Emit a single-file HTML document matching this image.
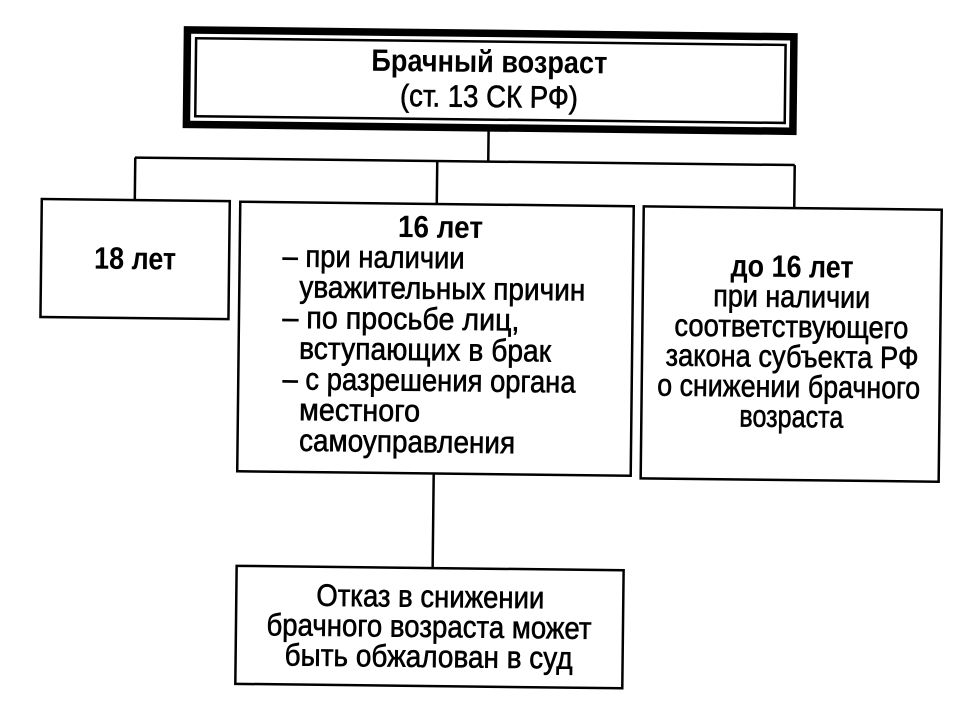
<!DOCTYPE html>
<html>
<head>
<meta charset="utf-8">
<style>
  html, body { margin: 0; padding: 0; background: #fff; }
  svg { display: block; }
  text { font-family: "Liberation Sans", Arial, sans-serif; fill: #000; }
  .b { font-weight: bold; }
  .r { stroke: #000; stroke-width: 0.6; }
</style>
</head>
<body>
<svg width="960" height="720" viewBox="0 0 960 720" xmlns="http://www.w3.org/2000/svg">
  <rect x="0" y="0" width="960" height="720" fill="#fff"/>
  <g transform="rotate(0.65 480 360)" fill="none" stroke="#000">
    <!-- Top box: thick outer + thin inner -->
    <rect x="183.75" y="33.25" width="606.5" height="94.5" stroke-width="7.5"/>
    <rect x="192.5" y="41.5" width="589.5" height="78" stroke-width="2.5"/>

    <!-- Connectors -->
    <line x1="486" y1="131" x2="486" y2="161.5" stroke-width="2.5"/>
    <line x1="132.7" y1="161.5" x2="792.5" y2="161.5" stroke-width="2.5"/>
    <line x1="133" y1="161.5" x2="133" y2="204" stroke-width="2.5"/>
    <line x1="435" y1="161.5" x2="435" y2="204.5" stroke-width="2.5"/>
    <line x1="792.5" y1="161.5" x2="792.5" y2="204.5" stroke-width="2.5"/>
    <line x1="435" y1="474" x2="435" y2="568.6" stroke-width="2.5"/>

    <!-- Boxes -->
    <rect x="40" y="204" width="188" height="118" stroke-width="2.5"/>
    <rect x="238.5" y="204.5" width="393.5" height="269.5" stroke-width="2.5"/>
    <rect x="642" y="204.5" width="298" height="272" stroke-width="2.5"/>
    <rect x="239" y="568.6" width="387" height="118" stroke-width="2.5"/>
  </g>

  <g transform="rotate(0.65 480 360)">
    <!-- Top box text -->
    <text class="b" x="486" y="72" font-size="31" text-anchor="middle" textLength="236" lengthAdjust="spacingAndGlyphs">Брачный возраст</text>
    <text class="r" x="486" y="107" font-size="31" text-anchor="middle" textLength="178" lengthAdjust="spacingAndGlyphs">(ст. 13 СК РФ)</text>

    <!-- Left box -->
    <text class="b" x="134" y="273" font-size="31" text-anchor="middle" textLength="82" lengthAdjust="spacingAndGlyphs">18 лет</text>

    <!-- Middle box -->
    <text class="b" x="439" y="238" font-size="31" text-anchor="middle" textLength="85" lengthAdjust="spacingAndGlyphs">16 лет</text>
    <text class="r" x="281.5" y="268.7" font-size="31" textLength="182" lengthAdjust="spacingAndGlyphs">– при наличии</text>
    <text class="r" x="298.5" y="299.4" font-size="31" textLength="286" lengthAdjust="spacingAndGlyphs">уважительных причин</text>
    <text class="r" x="282" y="330.1" font-size="31" textLength="237" lengthAdjust="spacingAndGlyphs">– по просьбе лиц,</text>
    <text class="r" x="299" y="360.8" font-size="31" textLength="252" lengthAdjust="spacingAndGlyphs">вступающих в брак</text>
    <text class="r" x="282.8" y="391.5" font-size="31" textLength="293" lengthAdjust="spacingAndGlyphs">– с разрешения органа</text>
    <text class="r" x="299.7" y="422.2" font-size="31" textLength="121" lengthAdjust="spacingAndGlyphs">местного</text>
    <text class="r" x="300" y="452.9" font-size="31" textLength="216" lengthAdjust="spacingAndGlyphs">самоуправления</text>

    <!-- Right box -->
    <text class="b" x="791" y="273.5" font-size="31" text-anchor="middle" textLength="123" lengthAdjust="spacingAndGlyphs">до 16 лет</text>
    <text class="r" x="791" y="303.5" font-size="31" text-anchor="middle" textLength="157" lengthAdjust="spacingAndGlyphs">при наличии</text>
    <text class="r" x="791" y="333.5" font-size="31" text-anchor="middle" textLength="234" lengthAdjust="spacingAndGlyphs">соответствующего</text>
    <text class="r" x="792" y="363.5" font-size="31" text-anchor="middle" textLength="253" lengthAdjust="spacingAndGlyphs">закона субъекта РФ</text>
    <text class="r" x="789" y="393.5" font-size="31" text-anchor="middle" textLength="263" lengthAdjust="spacingAndGlyphs">о снижении брачного</text>
    <text class="r" x="792" y="423.5" font-size="31" text-anchor="middle" textLength="104" lengthAdjust="spacingAndGlyphs">возраста</text>

    <!-- Bottom box -->
    <text class="r" x="433" y="607.6" font-size="31" text-anchor="middle" textLength="228" lengthAdjust="spacingAndGlyphs">Отказ в снижении</text>
    <text class="r" x="432" y="637.6" font-size="31" text-anchor="middle" textLength="325" lengthAdjust="spacingAndGlyphs">брачного возраста может</text>
    <text class="r" x="432" y="667.6" font-size="31" text-anchor="middle" textLength="288" lengthAdjust="spacingAndGlyphs">быть обжалован в суд</text>
  </g>
</svg>
</body>
</html>
